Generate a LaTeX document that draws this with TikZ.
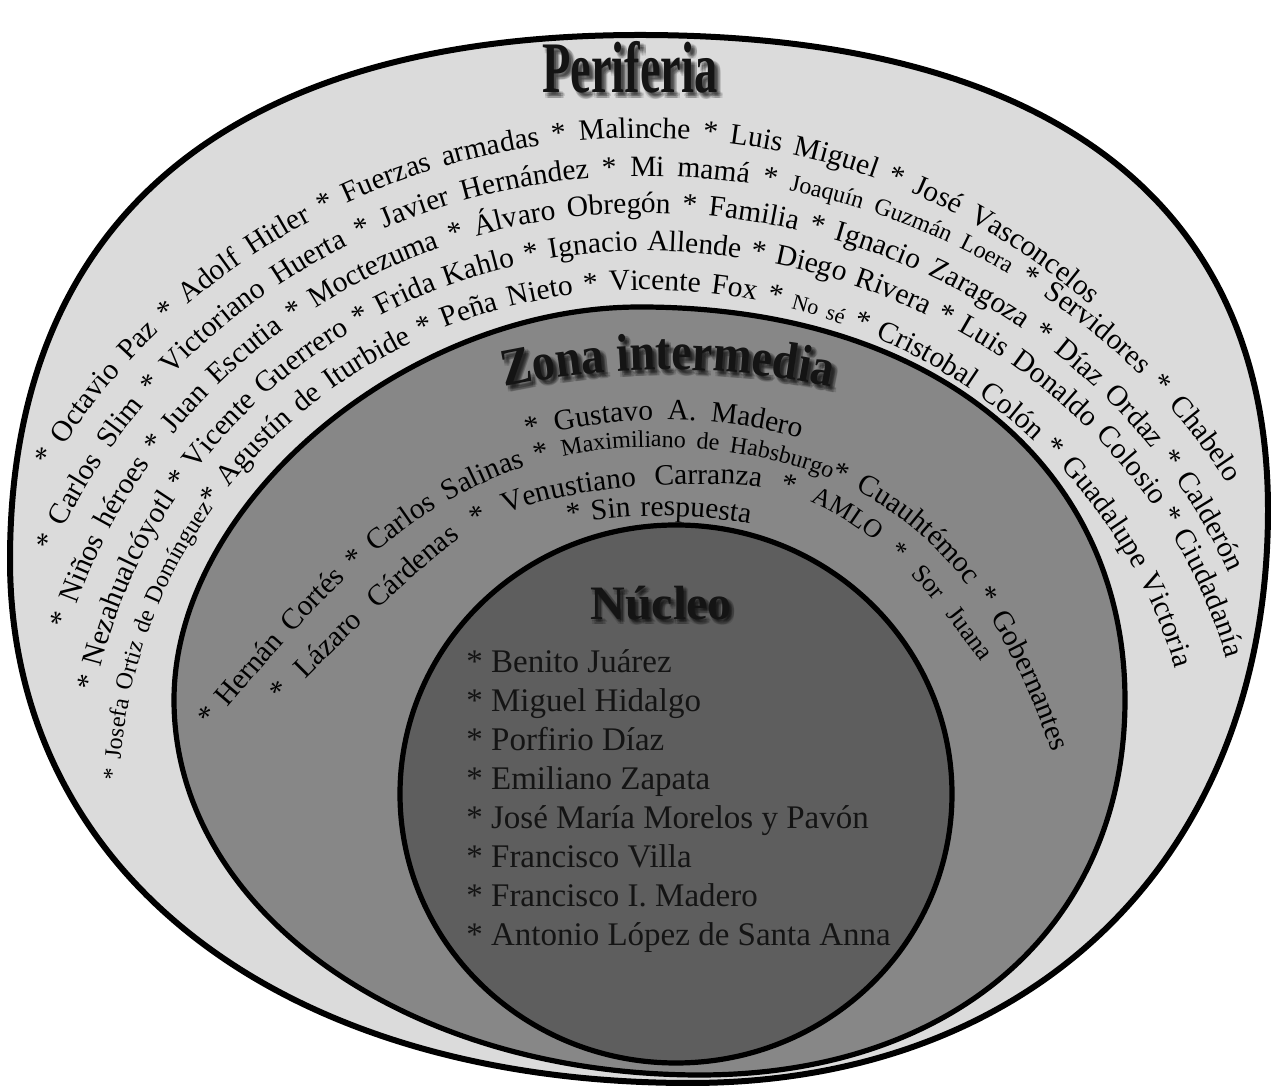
\documentclass[tikz,border=0pt]{standalone}
\usepackage{fontspec}
\setmainfont{Liberation Serif}
\newfontfamily\periferiafont[FakeStretch=0.64]{Liberation Serif}
\newfontfamily\zonafont[FakeStretch=0.87]{Liberation Serif}
\usetikzlibrary{decorations.text}

\definecolor{peri-gray}{gray}{0.86}
\definecolor{zona-gray}{gray}{0.53}
\definecolor{nucleo-gray}{gray}{0.37}
\definecolor{ink}{gray}{0.08}

\newcommand\ringfont{\fontsize{14.75}{17}\selectfont}
\newcommand\ringsmall{\fontsize{12}{14}\selectfont}
\newcommand\ringtiny{\fontsize{11}{13}\selectfont}
\newcommand\zonatitle{\zonafont\bfseries\fontsize{26.5}{30}\selectfont}

\tikzset{
	zone/.style={line width=2.6pt,draw=black},
	outer-zone/.style={zone,fill=peri-gray,line width=3pt},
	middle-zone/.style={zone,fill=zona-gray},
	inner-zone/.style={zone,fill=nucleo-gray},
	ring-text/.style={decorate,decoration={text along path,text align={fit to path stretching spaces},text={#1}}},
	centre-text/.style={decorate,decoration={text along path,text align=center,text={#1}}},
	title/.style={inner sep=0pt,anchor=base},
	periferia-title/.style={title,font=\periferiafont\bfseries\fontsize{36.3}{40}\selectfont},
	nucleo-title/.style={title,font=\bfseries\fontsize{24}{28}\selectfont},
	list-item/.style={font=\fontsize{16.5}{19}\selectfont,inner sep=0pt,anchor=base west,text=ink},
}

\begin{document}
\begin{tikzpicture}[x=0.5pt,y=0.5pt]
	\useasboundingbox (0,0) rectangle (1271,1087);
	\fill[white] (0,0) rectangle (1271,1087);
	
	% the three zones
	\draw[outer-zone] (10,527) .. controls (10,868) and (230,1052) .. (640,1052)
		.. controls (1048,1052) and (1268,886) .. (1268,577)
		.. controls (1268,233) and (1037,4) .. (690,4)
		.. controls (282,4) and (10,213) .. cycle;
	\draw[middle-zone] (174,387) .. controls (174,584) and (407,780) .. (640,780)
		.. controls (931,780) and (1125,623) .. (1125,387)
		.. controls (1125,162) and (955,12) .. (700,12)
		.. controls (405,12) and (174,177) .. cycle;
	\draw[inner-zone] (676,293) ellipse [x radius=276, y radius=269];
	
	% Periferia
	\begin{scope}[opacity=0.11]
		\foreach \dx/\dy [count=\k] in {4/-4, 6/-4, 2/-4, 4/-2, 4/-6, 5.5/-5.5, 2.5/-2.5, 5.5/-2.5, 2.5/-5.5}
			\node[periferia-title,text=black] (periferia-shadow-\k) at (630+\dx,994+\dy) {Periferia};
	\end{scope}
	\node[periferia-title,text=ink] (periferia) at (630,994) {Periferia};
	
	\path[ring-text={|\ringfont|* Octavio Paz * Adolf Hitler * Fuerzas armadas * Malinche * Luis Miguel * José Vasconcelos}]
		({644+687*cos(149.9)},{287+662*sin(149.9)}) arc[start angle=149.9,end angle=90,x radius=687,y radius=662]
		arc[start angle=90,end angle=48.4,x radius=672,y radius=662];
	\path[ring-text={|\ringfont|* Carlos Slim * Victoriano Huerta * Javier Hernández * Mi mamá * |\ringsmall|Joaquín Guzmán Loera|\ringfont| * Servidores * Chabelo}]
		({644+645*cos(156.6)},{287+624*sin(156.6)}) arc[start angle=156.6,end angle=90,x radius=645,y radius=624]
		arc[start angle=90,end angle=30.5,x radius=677,y radius=624];
	\path[ring-text={|\ringfont|* Niños héroes * Juan Escutia * Moctezuma * Álvaro Obregón * Familia * Ignacio Zaragoza * Díaz Ordaz * Calderón}]
		({644+602*cos(163.1)},{287+587*sin(163.1)}) arc[start angle=163.1,end angle=90,x radius=602,y radius=587]
		arc[start angle=90,end angle=22.8,x radius=634,y radius=587];
	\path[ring-text={|\ringfont|* Nezahualcóyotl * Vicente Guerrero * Frida Kahlo * Ignacio Allende * Diego Rivera * Luis Donaldo Colosio * Ciudadanía}]
		({644+560*cos(168.6)},{287+549*sin(168.6)}) arc[start angle=168.6,end angle=90,x radius=560,y radius=549]
		arc[start angle=90,end angle=15,x radius=603,y radius=549];
	\path[ring-text={|\ringsmall|* Josefa Ortiz de Domínguez|\ringfont|* Agustín de Iturbide * Peña Nieto * Vicente Fox * |\ringtiny|No sé|\ringfont| * Cristobal Colón * Guadalupe Victoria}]
		({644+525*cos(177.8)},{287+510*sin(177.8)}) arc[start angle=177.8,end angle=90,x radius=525,y radius=510]
		arc[start angle=90,end angle=15,x radius=550,y radius=510];
	
	% Zona intermedia
	\begin{scope}[opacity=0.12]
		\foreach \dx/\dy in {4/-4, 6/-4, 2/-4, 4/-2, 4/-6, 5.5/-5.5, 2.5/-2.5, 5.5/-2.5, 2.5/-5.5}
			\path[centre-text={|\zonatitle\color{black}|Zona intermedia}]
				(500+\dx,699+\dy) arc[start angle=102.3,end angle=77.7,radius=788];
	\end{scope}
	\path[centre-text={|\zonatitle\color{ink}|Zona intermedia}]
		(500,699) arc[start angle=102.3,end angle=77.7,radius=788];
	
	\path[ring-text={|\ringfont|* Gustavo A. Madero}]
		(527.6,649) arc[start angle=105,end angle=75,radius=527];
	\path[ring-text={|\ringfont|* Hernán Cortés * Carlos Salinas * |\ringsmall|Maximiliano de Habsburgo|\ringfont|* Cuauhtémoc * Gobernantes}]
		(210,359) .. controls (309,472) and (430,640) .. (650,640)
		.. controls (900,640) and (993,504) .. (1052,335);
	\path[ring-text={|\ringfont|* Lázaro Cárdenas * Venustiano Carranza * |\fontsize{13}{15}\selectfont|AMLO * Sor Juana}]
		(282,384) .. controls (330,435) and (444,544) .. (480,562)
		.. controls (551,598) and (640,603) .. (720,603)
		.. controls (840,603) and (911,522) .. (981,425);
	\path[ring-text={|\ringfont|* Sin respuesta}]
		(568,563) arc[start angle=100.06,end angle=79.94,radius=521];
	
	% Nucleo
	\begin{scope}[opacity=0.12]
		\foreach \dx/\dy [count=\k] in {3/-3, 5/-3, 1/-3, 3/-1, 3/-5, 4.5/-4.5, 1.5/-1.5, 4.5/-1.5, 1.5/-4.5}
			\node[nucleo-title,text=black] (nucleo-shadow-\k) at (661+\dx,467+\dy) {Núcleo};
	\end{scope}
	\node[nucleo-title,text=ink] (nucleo) at (661,467) {Núcleo};
	\foreach \name [count=\i] in {Benito Juárez, Miguel Hidalgo, Porfirio Díaz, Emiliano Zapata, José María Morelos y Pavón, Francisco Villa, Francisco I. Madero, Antonio López de Santa Anna}
		\node[list-item] (item-\i) at (466,{453-39*\i}) {* \name};
\end{tikzpicture}
\end{document}
